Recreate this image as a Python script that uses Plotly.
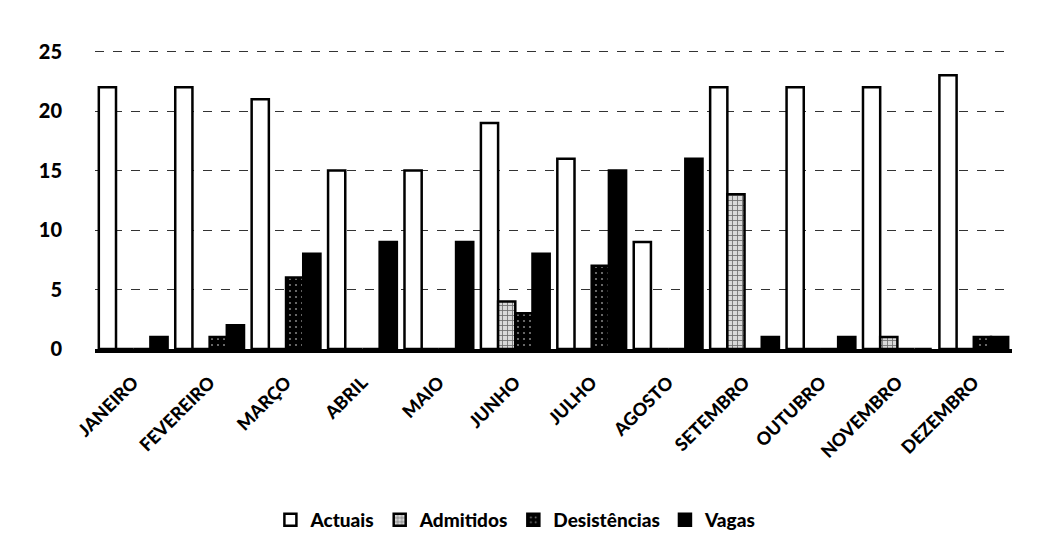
import plotly.graph_objects as go

months = ["JANEIRO", "FEVEREIRO", "MARÇO", "ABRIL", "MAIO", "JUNHO",
          "JULHO", "AGOSTO", "SETEMBRO", "OUTUBRO", "NOVEMBRO", "DEZEMBRO"]

actuais = [22, 22, 21, 15, 15, 19, 16, 9, 22, 22, 22, 23]
admitidos = [0, 0, 0, 0, 0, 4, 0, 0, 13, 0, 1, 0]
desistencias = [0, 1, 6, 0, 0, 3, 7, 0, 0, 0, 0, 1]
vagas = [1, 2, 8, 9, 9, 8, 15, 16, 1, 1, 0, 1]

y_ticks = [0, 5, 10, 15, 20, 25]

#Style of each series
series_style = {
	"Actuais": dict(color="white", pattern=dict(shape="")),
	"Admitidos": dict(color="#d9d9d9", pattern=dict(shape="+", fgcolor="black", size=5, solidity=0.3)),
	"Desistências": dict(color="black", pattern=dict(shape=".", fgcolor="white", size=6, solidity=0.1)),
	"Vagas": dict(color="black", pattern=dict(shape="")),
}

series_data = {
	"Actuais": actuais,
	"Admitidos": admitidos,
	"Desistências": desistencias,
	"Vagas": vagas,
}

font_family = "Lato, 'Liberation Sans', sans-serif"

fig = go.Figure()

for name, values in series_data.items():
	style = series_style[name]
	fig.add_trace(go.Bar(
		x=months, y=values, name=name,
		marker=dict(color=style["color"], pattern=style["pattern"],
			line=dict(color="black", width=2.5))
	))

#page has an 8px body margin, so margins are shifted by it
fig.update_layout(
	width=1043, height=551,
	margin=dict(l=87, r=39, t=40, b=210),
	paper_bgcolor="white",
	plot_bgcolor="white",
	barmode="group",
	bargap=0.1,
	bargroupgap=0,
	font=dict(family=font_family, size=15, color="black", weight=900),
	legend=dict(orientation="h", x=0.459, xanchor="center", y=-0.568, yanchor="middle",
		font=dict(size=19, weight=900), itemwidth=30, traceorder="normal"),
	showlegend=True,
)

fig.update_xaxes(
	tickangle=-45,
	automargin=False,
	showline=True, linecolor="black", linewidth=4,
	showgrid=False,
	ticklabelstandoff=12,
	tickfont=dict(size=18, weight=900),
)

fig.update_yaxes(
	range=[0, 25.3],
	automargin=False,
	tickvals=y_ticks,
	showgrid=True, gridcolor="#333", griddash="dash", gridwidth=1,
	zeroline=False, showline=False,
	ticklabelstandoff=32,
	tickfont=dict(size=20, weight=900),
)

fig.write_html("out.html")
